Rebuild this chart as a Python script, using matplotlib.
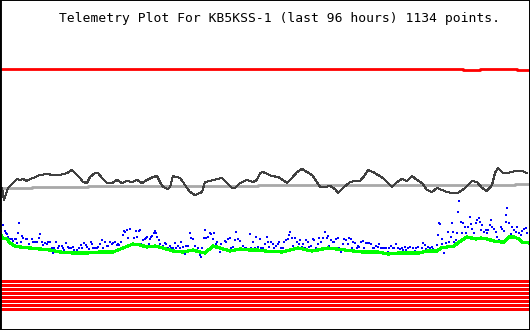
import matplotlib
matplotlib.use('Agg')
from matplotlib import pyplot as plt
import numpy as np

# all values, in plot units (x = sample column, y = screen row)
title = 'Telemetry Plot For KB5KSS-1 (last 96 hours) 1134 points.'

red_x = [2, 462, 463, 479, 480, 516, 517, 528]
red_y = [68.5, 68.5, 69.5, 69.5, 68.5, 68.5, 69.5, 69.5]

gray_x = [2, 32, 88, 258, 515, 528]
gray_y = [188, 187, 186, 185, 184, 184]

black_x = [2, 4, 8, 13, 17, 20, 23, 27, 30, 33, 40, 47, 53, 60, 67, 72, 75, 80, 83, 87,
           90, 95, 98, 102, 107, 112, 117, 122, 127, 132, 137, 142, 147, 153, 157, 160,
           163, 168, 170, 173, 180, 183, 187, 190, 195, 200, 202, 205, 210, 217, 222,
           227, 232, 235, 240, 247, 253, 257, 260, 263, 265, 272, 278, 283, 287, 292,
           297, 302, 307, 312, 317, 320, 325, 330, 335, 338, 343, 350, 355, 360, 365,
           368, 373, 378, 383, 387, 392, 397, 402, 407, 412, 417, 422, 427, 432, 437,
           442, 447, 452, 458, 465, 472, 477, 482, 487, 492, 495, 498, 503, 508, 515,
           522, 527]
black_y = [188, 200, 188, 183, 179, 180, 179, 181, 179, 178, 175, 174, 175, 175, 173, 170,
           173, 178, 182, 183, 177, 173, 173, 178, 183, 183, 180, 183, 181, 182, 180,
           183, 180, 177, 176, 182, 187, 189, 187, 176, 178, 182, 188, 192, 195, 193,
           192, 182, 181, 179, 178, 183, 188, 188, 183, 180, 182, 180, 173, 172, 173,
           176, 177, 180, 183, 178, 172, 169, 172, 175, 182, 187, 187, 186, 189, 193,
           188, 182, 181, 181, 175, 170, 172, 175, 178, 182, 187, 182, 179, 181, 176,
           180, 183, 190, 192, 188, 190, 192, 193, 193, 188, 181, 182, 188, 191, 185,
           173, 168, 173, 173, 171, 171, 173]

green_x = [1, 3, 7, 10, 15, 20, 30, 40, 50, 60, 73, 87, 100, 113, 123, 133, 140, 147,
           155, 163, 173, 183, 193, 200, 205, 213, 220, 230, 240, 250, 258, 265, 282,
           298, 312, 328, 345, 362, 378, 388, 399, 419, 427, 437, 441, 447, 454, 459,
           467, 476, 481, 487, 494, 501, 504, 509, 514, 519, 522, 529]
green_y = [235, 238, 239, 243, 246, 247, 248, 249, 250, 252, 253, 253, 252, 252, 248,
           244, 245, 247, 246, 248, 251, 252, 250, 252, 253, 246, 248, 251, 249, 250,
           250, 251, 252, 248, 251, 248, 250, 252, 252, 254, 253, 253, 251, 251, 248,
           247, 246, 242, 237, 239, 238, 239, 241, 242, 242, 237, 237, 239, 242, 243]

blue_x = [1, 3, 5, 6, 7, 8, 10, 12, 13, 15, 16, 17, 18, 19, 21, 22, 23, 25, 26, 27, 29,
          32, 33, 35, 37, 39, 40, 42, 43, 45, 47, 48, 50, 52, 53, 54, 56, 58, 59, 62, 63,
          64, 66, 68, 69, 71, 73, 74, 76, 77, 79, 81, 82, 84, 86, 87, 89, 91, 92, 93, 95,
          97, 98, 100, 102, 103, 105, 107, 108, 110, 112, 113, 115, 117, 118, 119, 121,
          123, 124, 125, 127, 128, 130, 134, 136, 137, 139, 140, 141, 143, 145, 146, 147,
          149, 150, 151, 152, 154, 155, 156, 157, 159, 160, 161, 163, 165, 166, 168, 170,
          171, 173, 175, 176, 178, 180, 181, 183, 185, 186, 188, 190, 191, 193, 195, 196,
          198, 200, 201, 202, 204, 205, 206, 208, 210, 211, 213, 214, 216, 217, 218, 220,
          221, 223, 225, 226, 228, 230, 231, 233, 235, 236, 238, 240, 241, 243, 245, 246,
          248, 250, 251, 253, 255, 256, 258, 260, 261, 263, 265, 267, 268, 269, 271, 273,
          274, 276, 278, 279, 281, 283, 284, 286, 288, 289, 290, 292, 293, 295, 297, 299,
          300, 302, 303, 305, 306, 308, 309, 311, 313, 314, 316, 318, 319, 321, 323, 324,
          325, 327, 328, 329, 331, 333, 334, 336, 338, 339, 341, 343, 344, 346, 348, 349,
          351, 352, 353, 355, 357, 358, 359, 361, 363, 364, 366, 368, 369, 371, 373, 374,
          376, 378, 379, 381, 383, 384, 386, 388, 389, 391, 393, 394, 396, 398, 400, 402,
          403, 405, 406, 408, 410, 412, 413, 415, 416, 418, 420, 422, 423, 425, 426, 428,
          430, 432, 433, 435, 437, 438, 439, 440, 442, 442, 444, 445, 446, 448, 449, 451,
          452, 453, 454, 456, 457, 458, 459, 461, 462, 463, 465, 466, 468, 470, 471, 472,
          474, 476, 477, 479, 480, 481, 482, 484, 486, 487, 488, 490, 491, 492, 494, 496,
          497, 499, 501, 502, 504, 506, 506, 507, 509, 511, 512, 514, 516, 517, 519, 521,
          522, 524, 526, 527]
blue_y = [211, 225, 231, 233, 234, 237, 239, 239, 241, 239, 239, 243, 233, 223, 242, 236,
          238, 247, 239, 239, 244, 239, 242, 242, 242, 238, 234, 242, 245, 243, 244, 242,
          242, 248, 253, 248, 242, 248, 246, 246, 248, 250, 243, 247, 248, 248, 247, 250,
          252, 250, 248, 245, 248, 243, 245, 247, 249, 242, 244, 248, 248, 248, 247, 244,
          240, 248, 242, 246, 246, 242, 244, 243, 242, 245, 244, 245, 242, 235, 231, 232,
          230, 238, 229, 238, 231, 237, 231, 230, 244, 240, 239, 238, 237, 244, 239, 237,
          236, 233, 231, 233, 237, 240, 244, 248, 246, 243, 244, 248, 246, 248, 248, 243,
          248, 246, 248, 242, 247, 254, 246, 246, 233, 238, 239, 246, 252, 248, 255, 257,
          248, 238, 230, 238, 237, 233, 234, 239, 233, 244, 242, 248, 252, 244, 248, 241,
          242, 239, 238, 248, 247, 240, 232, 239, 241, 248, 246, 248, 248, 250, 234, 248,
          242, 248, 237, 247, 239, 248, 248, 244, 237, 242, 247, 242, 244, 248, 246, 244,
          242, 248, 248, 242, 240, 239, 235, 232, 238, 246, 238, 242, 244, 240, 247, 244,
          248, 240, 242, 247, 246, 239, 240, 248, 244, 238, 242, 238, 248, 232, 238, 236,
          246, 240, 242, 242, 239, 238, 248, 252, 244, 239, 240, 244, 238, 239, 248, 242,
          243, 248, 246, 247, 242, 241, 248, 243, 243, 243, 244, 248, 248, 246, 247, 244,
          248, 248, 248, 248, 252, 248, 246, 248, 248, 244, 248, 249, 248, 250, 247, 250,
          248, 247, 252, 248, 251, 248, 247, 252, 248, 243, 245, 249, 247, 248, 247, 249,
          250, 245, 235, 223, 224, 239, 244, 253, 248, 243, 232, 242, 237, 223, 232, 242,
          240, 233, 212, 201, 222, 233, 223, 227, 233, 227, 217, 224, 229, 233, 223, 220,
          218, 222, 230, 225, 232, 230, 233, 230, 225, 220, 227, 229, 232, 237, 240, 227,
          229, 231, 222, 215, 208, 223, 234, 227, 230, 232, 227, 233, 235, 231, 229, 228,
          233]

stripe_y = [281.3, 285.3, 289.3, 293.3, 297.3, 301.3, 305.3, 309.3]

fig = plt.figure(figsize=(5.3, 3.3), dpi=100)
ax = fig.add_axes([0, 0, 1, 1])
ax.set_xlim(0, 530)
ax.set_ylim(330, 0)
ax.set_xticks([])
ax.set_yticks([])
for side in ['top', 'right', 'bottom']:
    ax.spines[side].set_linewidth(1.4)
ax.spines['left'].set_linewidth(2.8)

ax.text(59, 21.7, title, family='DejaVu Sans Mono', fontsize=9.4, color='black',
        ha='left', va='baseline')

ax.plot(red_x, red_y, color='#ff0000', lw=2.0, drawstyle='steps-post')
ax.plot(gray_x, gray_y, color='#a8a8a8', lw=2.0, drawstyle='steps-post')
ax.plot(black_x, black_y, color='#404040', lw=0.75, antialiased=False)
ax.plot(green_x, green_y, color='#00ff00', lw=1.6, antialiased=False)
ax.scatter(blue_x, blue_y, color='#0000ff', marker='s', s=2.6, linewidths=0, antialiased=False)
for y in stripe_y:
    ax.axhline(y, xmin=2 / 530, xmax=528 / 530, color='#ff0000', lw=2.1, antialiased=False)

fig.savefig('out.png', dpi=100)
